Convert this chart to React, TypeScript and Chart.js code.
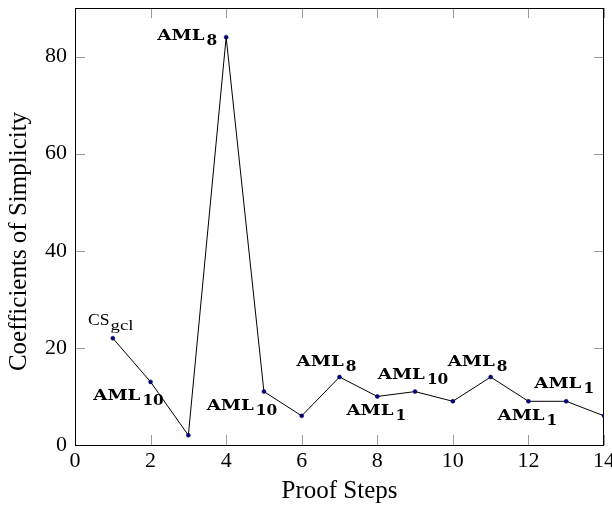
import React, { useEffect, useRef } from "react";
import { Chart, registerables } from "chart.js";

Chart.register(...registerables);

// ---- data ----
const steps = [1, 2, 3, 4, 5, 6, 7, 8, 9, 10, 11, 12, 13, 14];
const coefficients = [22, 13, 2, 84, 11, 6, 14, 10, 11, 9, 14, 9, 9, 6];
const pointLabels: (string | null)[] = [
  "CS_gcl", "AML_10", null, "AML_8", "AML_10", null, "AML_8",
  "AML_1", "AML_10", null, "AML_8", "AML_1", "AML_1", null,
];
const labelAnchors: (string | null)[] = [
  "above", "below left", null, "left", "below left", null, "above left",
  "below", "above", null, "above left", "below", "above", null,
];
const xTicks = [0, 2, 4, 6, 8, 10, 12, 14];
const yTicks = [0, 20, 40, 60, 80];
const xLabel = "Proof Steps";
const yLabel = "Coefficients of Simplicity";

// ---- style ----
const SERIF = "'Liberation Serif', 'Times New Roman', serif";
const BOLD_SERIF = "'DejaVu Serif', serif";
const TITLE_SIZE = 25;
const anchorOffsets: Record<string, [number, number]> = {
  above: [-2, -13],
  "above left": [-13, -11],
  below: [-1, 19],
  "below left": [-22, 18],
  left: [0, 3],
};

function drawStretched(ctx: CanvasRenderingContext2D, text: string, x: number, y: number, sx: number) {
  ctx.save();
  ctx.translate(x, y);
  ctx.scale(sx, 1);
  ctx.fillText(text, 0, 0);
  ctx.restore();
}

const framePlugin = {
  id: "frame",
  beforeDatasetsDraw(chart: any) {
    const { ctx, chartArea } = chart;
    const { left, right, top, bottom } = chartArea;
    const xs = chart.scales.x;
    const ys = chart.scales.y;
    ctx.save();
    ctx.strokeStyle = "#9a9a9a";
    ctx.lineWidth = 1;
    const TL = 10;
    ctx.beginPath();
    for (const v of xTicks) {
      const px = Math.round(xs.getPixelForValue(v)) + 0.5;
      ctx.moveTo(px, bottom);
      ctx.lineTo(px, bottom - TL);
      ctx.moveTo(px, top);
      ctx.lineTo(px, top + TL);
    }
    for (const v of yTicks) {
      const py = Math.round(ys.getPixelForValue(v)) + 0.5;
      ctx.moveTo(left, py);
      ctx.lineTo(left + TL, py);
      ctx.moveTo(right, py);
      ctx.lineTo(right - TL, py);
    }
    ctx.stroke();
    ctx.strokeStyle = "#000";
    ctx.lineWidth = 1;
    ctx.strokeRect(Math.round(left) + 0.5, Math.round(top) + 0.5, Math.round(right - left) - 1, Math.round(bottom - top));

    // y-axis title
    ctx.fillStyle = "#000";
    ctx.font = `${TITLE_SIZE}px ${SERIF}`;
    ctx.textAlign = "center";
    ctx.textBaseline = "alphabetic";
    ctx.translate(26, 241.5);
    ctx.rotate(-Math.PI / 2);
    ctx.fillText(yLabel, 0, 0);
    ctx.restore();
  },
  afterDatasetsDraw(chart: any) {
    const { ctx } = chart;
    const meta = chart.getDatasetMeta(0);
    ctx.save();
    ctx.fillStyle = "#000";
    ctx.textBaseline = "alphabetic";
    ctx.textAlign = "left";
    pointLabels.forEach((lab, i) => {
      if (!lab) return;
      const anchor = labelAnchors[i] || "above";
      const pt = meta.data[i];
      const [main, sub] = lab.split("_");
      const isCS = main === "CS";
      const mainFont = isCS ? `16px ${SERIF}` : `bold 14px ${BOLD_SERIF}`;
      const subFont = isCS ? `15px ${SERIF}` : `bold 14px ${BOLD_SERIF}`;
      const mainSx = isCS ? 1.1 : 1.3;
      const subSx = isCS ? 1.25 : 1.1;
      const gap = isCS ? 1 : 2;
      const subDrop = 5;
      ctx.font = mainFont;
      const wMain = ctx.measureText(main).width * mainSx;
      ctx.font = subFont;
      const wSub = ctx.measureText(sub).width * subSx;
      const total = wMain + gap + wSub;
      const [dx, dy] = anchorOffsets[anchor];
      let cx = pt.x + dx;
      if (anchor === "left") cx = pt.x - 9 - total / 2;
      const base = pt.y + dy;
      const x0 = cx - total / 2;
      ctx.font = mainFont;
      drawStretched(ctx, main, x0, base, mainSx);
      ctx.font = subFont;
      drawStretched(ctx, sub, x0 + wMain + gap, base + subDrop, subSx);
    });
    ctx.restore();
  },
};

export default function App() {
  const canvasRef = useRef<HTMLCanvasElement | null>(null);

  useEffect(() => {
    if (!canvasRef.current) return;
    const chart = new Chart(canvasRef.current, {
      type: "scatter",
      data: {
        datasets: [
          {
            data: steps.map((s, i) => ({ x: s, y: coefficients[i] })),
            showLine: true,
            borderColor: "#000",
            borderWidth: 1,
            pointRadius: 2,
            pointBackgroundColor: "#00008b",
            pointBorderColor: "#000033",
            pointBorderWidth: 0.5,
            tension: 0,
          },
        ],
      },
      options: {
        responsive: false,
        animation: false,
        devicePixelRatio: 1,
        layout: { padding: { top: 8, right: 8, left: 0, bottom: 0 } },
        plugins: {
          legend: { display: false },
          tooltip: { enabled: false },
        },
        scales: {
          x: {
            type: "linear",
            min: 0,
            max: 14,
            afterBuildTicks: (s: any) => {
              s.ticks = xTicks.map((v) => ({ value: v }));
            },
            afterFit: (s: any) => {
              s.height = 62;
              s.paddingLeft = 0;
              s.paddingRight = 0;
            },
            grid: { display: false, drawTicks: false },
            border: { display: false },
            ticks: {
              color: "#000",
              padding: 3,
              font: { family: SERIF, size: 22 },
              maxRotation: 0,
            },
            title: {
              display: true,
              text: xLabel,
              color: "#000",
              font: { family: SERIF, size: TITLE_SIZE },
              padding: { top: 0, bottom: 1 },
            },
          },
          y: {
            type: "linear",
            min: 0,
            max: 90,
            afterBuildTicks: (s: any) => {
              s.ticks = yTicks.map((v) => ({ value: v }));
            },
            afterFit: (s: any) => {
              s.width = 75;
              s.paddingTop = 0;
              s.paddingBottom = 0;
            },
            grid: { display: false, drawTicks: false },
            border: { display: false },
            ticks: {
              color: "#000",
              padding: 8,
              font: { family: SERIF, size: 22 },
            },
            title: { display: false },
          },
        },
      },
      plugins: [framePlugin],
    });
    return () => chart.destroy();
  }, []);

  return (
    <div style={{ position: "absolute", left: 0, top: 0, width: 612, height: 507, background: "#fff" }}>
      <canvas ref={canvasRef} width={612} height={507} style={{ display: "block" }} />
    </div>
  );
}
